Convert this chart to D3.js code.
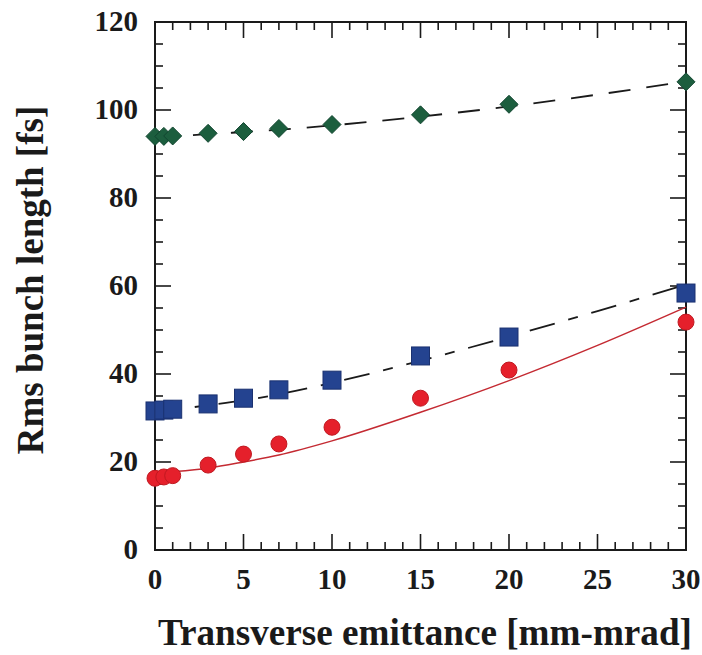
<!DOCTYPE html>
<html>
<head>
<meta charset="utf-8">
<script src="https://cdn.jsdelivr.net/npm/d3@7"></script>
<style>
  html, body { margin: 0; padding: 0; background: #fff; }
  svg { display: block; }
</style>
</head>
<body>
<svg id="chart" width="702" height="655"></svg>
<script>
// Measured emittance values [mm-mrad]
const emittance = [0, 0.5, 1, 3, 5, 7, 10, 15, 20, 30];
// Rms bunch length [fs] for each beam case
const greenValues = [94.0, 94.0, 94.1, 94.7, 95.1, 95.8, 96.7, 98.9, 101.3, 106.4];
const blueValues  = [31.6, 31.8, 32.0, 33.2, 34.5, 36.4, 38.6, 44.1, 48.4, 58.4];
const redValues   = [16.3, 16.6, 16.9, 19.3, 21.8, 24.1, 27.9, 34.5, 40.9, 51.8];

// Fitted curves
const fitX     = [0, 1, 3, 5, 7, 10, 15, 20, 25, 30];
const greenFit = [94.0, 94.1, 94.5, 95.0, 95.5, 96.5, 98.5, 100.8, 103.5, 106.5];
const blueFit  = [31.5, 31.9, 32.9, 34.0, 35.4, 38.0, 43.0, 48.5, 54.3, 60.3];
const redFit   = [17.5, 17.8, 18.6, 20.0, 21.6, 24.8, 31.3, 38.5, 46.5, 55.2];

const xTicks = [0, 5, 10, 15, 20, 25, 30];
const yTicks = [0, 20, 40, 60, 80, 100, 120];

const FONT = "'Liberation Serif', 'Times New Roman', Times, serif";
const INK = "#1a1a1a";

const svg = d3.select("#chart");
const plot = { left: 155, right: 686, top: 22, bottom: 550 };

const x = d3.scaleLinear().domain([0, 30]).range([plot.left, plot.right]);
const y = d3.scaleLinear().domain([0, 120]).range([plot.bottom, plot.top]);

const frame = svg.append("g");

// Inward ticks on all four sides
function ticks(values, len, side) {
  const g = frame.append("g").attr("stroke", INK).attr("stroke-width", 1.6);
  values.forEach(v => {
    if (side === "bottom") g.append("line").attr("x1", x(v)).attr("x2", x(v)).attr("y1", plot.bottom).attr("y2", plot.bottom - len);
    if (side === "top") g.append("line").attr("x1", x(v)).attr("x2", x(v)).attr("y1", plot.top).attr("y2", plot.top + len);
    if (side === "left") g.append("line").attr("y1", y(v)).attr("y2", y(v)).attr("x1", plot.left).attr("x2", plot.left + len);
    if (side === "right") g.append("line").attr("y1", y(v)).attr("y2", y(v)).attr("x1", plot.right).attr("x2", plot.right - len);
  });
}
const xMinor = d3.range(0, 31, 1).filter(v => v % 5 !== 0);
const yMinor = d3.range(0, 121, 5).filter(v => v % 20 !== 0);
["bottom", "top"].forEach(s => { ticks(xTicks, 16, s); ticks(xMinor, 8, s); });
["left", "right"].forEach(s => { ticks(yTicks, 16, s); ticks(yMinor, 8, s); });

frame.append("rect")
  .attr("x", plot.left).attr("y", plot.top)
  .attr("width", plot.right - plot.left).attr("height", plot.bottom - plot.top)
  .attr("fill", "none").attr("stroke", INK).attr("stroke-width", 2);

function label(sel) {
  return sel.style("font-family", FONT).style("font-weight", "bold").attr("fill", INK);
}

// Tick labels
svg.append("g").selectAll("text").data(xTicks).join("text")
  .call(label)
  .attr("x", d => x(d)).attr("y", 589)
  .attr("text-anchor", "middle").style("font-size", "29px")
  .text(d => d);
svg.append("g").selectAll("text").data(yTicks).join("text")
  .call(label)
  .attr("x", 138).attr("y", d => y(d) + 9)
  .attr("text-anchor", "end").style("font-size", "29px")
  .text(d => d);

// Axis titles
svg.append("text").call(label)
  .attr("x", 158).attr("y", 645)
  .style("font-size", "37px")
  .attr("textLength", 534).attr("lengthAdjust", "spacingAndGlyphs")
  .text("Transverse emittance [mm-mrad]");
svg.append("text").call(label)
  .attr("transform", "translate(43,280) rotate(-90)")
  .attr("text-anchor", "middle")
  .style("font-size", "37px")
  .text("Rms bunch length [fs]");

// Fit curves
const line = d3.line().x(d => x(d[0])).y(d => y(d[1])).curve(d3.curveMonotoneX);
const curves = svg.append("g").attr("fill", "none");
curves.append("path")
  .attr("d", line(fitX.map((v, i) => [v, greenFit[i]])))
  .attr("stroke", INK).attr("stroke-width", 1.8)
  .attr("stroke-dasharray", "22 16");
curves.append("path")
  .attr("d", line(fitX.map((v, i) => [v, blueFit[i]])))
  .attr("stroke", INK).attr("stroke-width", 1.8)
  .attr("stroke-dasharray", "26 14 10 14");
curves.append("path")
  .attr("d", line(fitX.map((v, i) => [v, redFit[i]])))
  .attr("stroke", "#c42a32").attr("stroke-width", 1.5);

// Markers
const marks = svg.append("g");
marks.selectAll(".dia").data(emittance).join("path")
  .attr("class", "dia")
  .attr("transform", (d, i) => `translate(${x(d)},${y(greenValues[i])})`)
  .attr("d", "M0,-9L9,0L0,9L-9,0Z")
  .attr("fill", "#1c5e3e").attr("stroke", "#124630").attr("stroke-width", 1);
marks.selectAll(".sq").data(emittance).join("rect")
  .attr("class", "sq")
  .attr("x", d => x(d) - 9).attr("y", (d, i) => y(blueValues[i]) - 9)
  .attr("width", 18).attr("height", 18)
  .attr("fill", "#244390").attr("stroke", "#1a3170").attr("stroke-width", 1);
marks.selectAll(".dot").data(emittance).join("circle")
  .attr("class", "dot")
  .attr("cx", d => x(d)).attr("cy", (d, i) => y(redValues[i]))
  .attr("r", 8)
  .attr("fill", "#e5202b").attr("stroke", "#c01820").attr("stroke-width", 1);
</script>
</body>
</html>
